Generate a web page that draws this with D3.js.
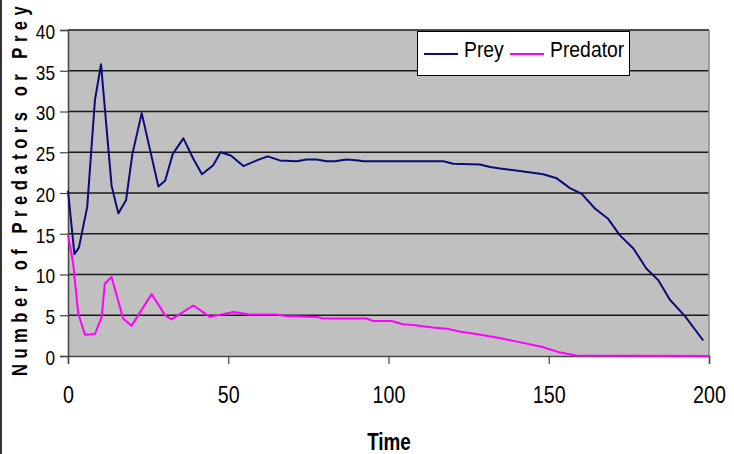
<!DOCTYPE html>
<html>
<head>
<meta charset="utf-8">
<script src="https://cdn.jsdelivr.net/npm/d3@7"></script>
<style>
  body { margin: 0; background: #fff; }
  svg { display: block; }
  text { font-family: "Liberation Sans", Arial, sans-serif; }
</style>
</head>
<body>
<svg id="chart" width="734" height="454"></svg>
<script>
"use strict"

// data
var preyTime = [0, 2, 3.4, 6, 8.4, 10.3, 13.6, 15.7, 18.1, 20.1, 23, 28.2, 30.3, 32.7, 36, 39.1, 41.8, 45.3, 47.6, 50.8, 54.7, 58.9, 62.3, 66.1, 71.3, 74.5, 77.6, 80.7, 83.3, 86.9, 90.6, 92.2, 117.1, 120.2, 128.5, 131.7, 134.8, 141, 148.3, 152.5, 156.6, 160.3, 164.4, 168.6, 172.2, 176.4, 180.5, 184.2, 187.8, 192.5, 198.2];
var preyCount = [20.3, 12.5, 13.3, 18.3, 31.4, 35.8, 20.9, 17.5, 19.1, 24.8, 29.8, 20.8, 21.5, 24.8, 26.7, 24.2, 22.3, 23.4, 25.0, 24.6, 23.3, 24.0, 24.5, 24.0, 23.9, 24.1, 24.1, 23.9, 23.9, 24.1, 24.0, 23.9, 23.9, 23.6, 23.5, 23.2, 23.0, 22.7, 22.3, 21.8, 20.6, 19.9, 18.1, 16.8, 14.8, 13.2, 10.7, 9.3, 6.9, 4.9, 1.9];

var predTime = [0, 1.6, 3.2, 5.3, 8.4, 10.5, 11.5, 13.6, 17.2, 19.8, 26.1, 28.7, 30.2, 32.3, 39.1, 44.3, 51.6, 56.8, 65, 68.1, 77.5, 79.6, 93.1, 95.2, 100.9, 104.5, 107.6, 113.8, 118.9, 122.1, 127.3, 134.6, 140.8, 148.1, 153.3, 158.5, 200];
var predCount = [14.8, 11.4, 5.2, 2.6, 2.7, 4.8, 8.9, 9.7, 4.6, 3.7, 7.6, 6.0, 5.0, 4.5, 6.2, 4.8, 5.4, 5.1, 5.1, 4.9, 4.8, 4.6, 4.6, 4.3, 4.3, 3.9, 3.8, 3.5, 3.3, 3.0, 2.7, 2.2, 1.7, 1.1, 0.45, 0.05, 0];

var xTicks = [0, 50, 100, 150, 200];
var yTicks = [0, 5, 10, 15, 20, 25, 30, 35, 40];

var seriesNames = ["Prey", "Predator"];
var seriesColors = ["#0c0c78", "#ff00ff"];

var NARROW = 0.82;

var svg = d3.select("#chart");

var plot = { left: 68, right: 709, top: 30, bottom: 356 };

var x = d3.scaleLinear().domain([0, 200]).range([plot.left, plot.right]);
var y = d3.scaleLinear().domain([0, 40]).range([plot.bottom, plot.top]);

// squeeze a text sideways, keeping its anchor point where it was
function narrow(selection, factor){
  selection.each(function(){
    var t = d3.select(this);
    var tx = +t.attr("x") || 0;
    t.attr("x", tx / factor)
     .attr("transform", "scale(" + factor + ",1)");
  });
}

// outer frame edge on the left
svg.append("line")
  .attr("x1", 1).attr("x2", 1)
  .attr("y1", 0).attr("y2", 454)
  .attr("stroke", "#333")
  .attr("stroke-width", 2);

// plot background
svg.append("rect")
  .attr("x", plot.left)
  .attr("y", plot.top)
  .attr("width", plot.right - plot.left)
  .attr("height", plot.bottom - plot.top)
  .attr("fill", "#c0c0c0");

// gridlines
svg.append("g")
  .selectAll("line")
  .data(yTicks.filter(function(d){ return d > 0; }))
  .enter()
  .append("line")
  .attr("x1", plot.left)
  .attr("x2", plot.right)
  .attr("y1", function(d){ return y(d); })
  .attr("y2", function(d){ return y(d); })
  .attr("stroke", "#1a1a1a")
  .attr("stroke-width", 1.4);

// right edge
svg.append("line")
  .attr("x1", plot.right).attr("x2", plot.right)
  .attr("y1", plot.top).attr("y2", plot.bottom)
  .attr("stroke", "#8a8a8a")
  .attr("stroke-width", 1.5);

// axes
var xAxis = svg.append("g")
  .attr("transform", "translate(0," + plot.bottom + ")")
  .call(d3.axisBottom(x).tickValues(xTicks).tickSize(8).tickPadding(22).tickFormat(d3.format("d")));

var yAxis = svg.append("g")
  .attr("transform", "translate(" + plot.left + ",0)")
  .call(d3.axisLeft(y).tickValues(yTicks).tickSize(8).tickPadding(5).tickFormat(d3.format("d")));

[xAxis, yAxis].forEach(function(axis){
  axis.attr("font-family", null).attr("font-size", null);
  axis.select(".domain").attr("stroke", "#444").attr("stroke-width", 1.5);
  axis.selectAll(".tick line").attr("stroke", "#444").attr("stroke-width", 1.2);
  axis.selectAll("text").attr("fill", "#000");
});
xAxis.selectAll("text").style("font-size", "24px");
yAxis.selectAll("text").style("font-size", "21px").attr("dy", "0.4em");
narrow(xAxis.selectAll("text"), NARROW);
narrow(yAxis.selectAll("text"), NARROW);

// series lines
var line = d3.line()
  .x(function(d){ return x(d[0]); })
  .y(function(d){ return y(d[1]); });

var series = [
  d3.zip(preyTime, preyCount),
  d3.zip(predTime, predCount)
];

svg.append("g")
  .selectAll("path")
  .data(series)
  .enter()
  .append("path")
  .attr("d", line)
  .attr("fill", "none")
  .attr("stroke", function(d, i){ return seriesColors[i]; })
  .attr("stroke-width", 2)
  .attr("stroke-linejoin", "round");

// axis titles
svg.append("g")
  .attr("transform", "translate(389,450)")
  .append("text")
  .attr("text-anchor", "middle")
  .attr("font-weight", "bold")
  .style("font-size", "23px")
  .text("Time")
  .call(narrow, NARROW);

svg.append("g")
  .attr("transform", "translate(27,376) rotate(-90)")
  .append("text")
  .attr("font-weight", "bold")
  .style("font-size", "22px")
  .style("letter-spacing", "7.4px")
  .text("Number of Predators or Prey")
  .call(narrow, 0.75);

// legend
var legend = svg.append("g");

legend.append("rect")
  .attr("x", 417.5)
  .attr("y", 31.5)
  .attr("width", 212)
  .attr("height", 44)
  .attr("fill", "#fff")
  .attr("stroke", "#000")
  .attr("stroke-width", 1);

var legendX = [424, 510];
var legendItem = legend.selectAll(".item")
  .data(seriesNames)
  .enter()
  .append("g")
  .attr("class", "item")
  .attr("transform", function(d, i){ return "translate(" + legendX[i] + ",0)"; });

legendItem.append("line")
  .attr("x1", 0).attr("x2", 34)
  .attr("y1", 54).attr("y2", 54)
  .attr("stroke", function(d, i){ return seriesColors[i]; })
  .attr("stroke-width", 2);

legendItem.append("text")
  .attr("x", 40)
  .attr("y", 57)
  .style("font-size", "22px")
  .text(function(d){ return d; })
  .call(narrow, 0.88);
</script>
</body>
</html>
